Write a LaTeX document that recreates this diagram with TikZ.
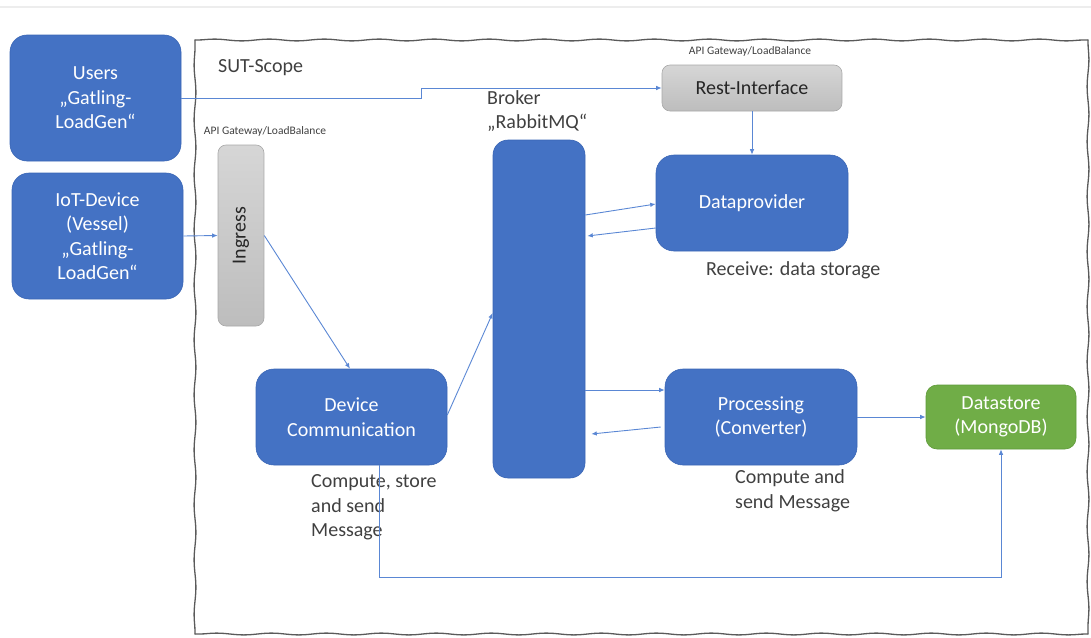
\documentclass[tikz,border=0pt]{standalone}
\usepackage{fontspec}
\setmainfont{Carlito}
\usetikzlibrary{arrows.meta,decorations.pathmorphing}
\definecolor{boxblue}{HTML}{4472C4}
\definecolor{boxblueedge}{HTML}{3A66B5}
\definecolor{linkblue}{HTML}{5A87D4}
\definecolor{boxgreen}{HTML}{70AD47}
\definecolor{boxgreenedge}{HTML}{5E9A39}
\definecolor{graytop}{HTML}{D6D6D6}
\definecolor{graybot}{HTML}{BDBDBD}
\definecolor{grayedge}{HTML}{A8A8A8}
\definecolor{labeltext}{HTML}{404040}
\definecolor{sketch}{HTML}{5A5A5A}
\tikzset{
  bigfont/.style={font=\fontsize{20}{24.5}\selectfont},
  smallfont/.style={font=\fontsize{11.5}{13}\selectfont},
  bluebox/.style={bigfont, draw=boxblueedge, line width=0.6pt, fill=boxblue, text=white, align=center, inner sep=0pt},
  greenbox/.style={bigfont, draw=boxgreenedge, line width=0.6pt, fill=boxgreen, text=white, align=center, inner sep=0pt, rounded corners=11pt},
  graybox/.style={bigfont, draw=grayedge, line width=0.6pt, top color=graytop, bottom color=graybot, text=black!85, align=center, inner sep=0pt, rounded corners=8pt},
  lbl/.style={bigfont, text=labeltext, align=left, inner sep=0pt},
  tinylbl/.style={smallfont, text=labeltext, inner sep=0pt},
  conn/.style={draw=linkblue, line width=0.9pt, -{Latex[length=5.5pt,width=4.5pt]}},
  scope border/.style={draw=sketch, line width=1.3pt, line cap=round, decorate, decoration={snake, amplitude=0.9pt, segment length=55pt, pre length=2pt, post length=2pt}}
}
\begin{document}
\begin{tikzpicture}[x=1pt,y=-1pt]
\useasboundingbox (0,0) rectangle (1091,637);
% page separator line at top
\draw[draw=black!7, line width=2pt] (0,7) -- (1091,7);
% SUT scope hand-drawn frame
\coordinate (ftl) at (195,40);
\coordinate (ftr) at (1088,40);
\coordinate (fbr) at (1088,634);
\coordinate (fbl) at (195,634);
\draw[scope border] (ftl) -- (ftr);
\draw[scope border] (ftr) -- (fbr);
\draw[scope border] (fbr) -- (fbl);
\draw[scope border] (fbl) -- (ftl);
\node[lbl, anchor=west] (scopelabel) at (218,68) {SUT-Scope};

% external load generators
\node[bluebox, rounded corners=17pt, minimum width=171pt, minimum height=126pt] (users) at (95.5,98) {Users\\„Gatling-\\LoadGen“};
\node[bluebox, rounded corners=17pt, minimum width=171pt, minimum height=126pt] (iot) at (97.5,236) {IoT-Device\\(Vessel)\\„Gatling-\\LoadGen“};

% gateways
\node[tinylbl] (apigw1) at (265,131) {API Gateway/LoadBalance};
\node[graybox, minimum width=46pt, minimum height=181pt] (ingress) at (241,235.5) {};
\node[bigfont, text=black!85, rotate=90] (ingresstext) at (ingress.center) {Ingress};
\node[tinylbl] (apigw2) at (750,51) {API Gateway/LoadBalance};
\node[graybox, minimum width=180pt, minimum height=46pt] (rest) at (752,88) {Rest-Interface};

% broker
\node[lbl, anchor=west] (brokerlabel) at (487,111) {Broker\\„RabbitMQ“};
\node[bluebox, rounded corners=15pt, minimum width=92pt, minimum height=338pt] (broker) at (539,309) {};

% services
\node[bluebox, rounded corners=18pt, minimum width=192pt, minimum height=96pt] (dp) at (752,203) {Dataprovider};
\node[lbl, anchor=west] (dplabel) at (706,270) {Receive: data storage};
\node[bluebox, rounded corners=18pt, minimum width=191pt, minimum height=96pt] (dc) at (351.5,417) {Device\\Communication};
\node[lbl, anchor=west] (dclabel) at (311,507.5) {Compute, store\\and send\\Message};
\node[bluebox, rounded corners=18pt, minimum width=192pt, minimum height=96pt] (proc) at (761,417) {Processing\\(Converter)};
\node[lbl, anchor=west] (proclabel) at (735,491) {Compute and\\send Message};
\node[greenbox, minimum width=150pt, minimum height=64pt] (ds) at (1001,417) {Datastore\\(MongoDB)};

% connectors
\coordinate (step1) at (421,98);
\coordinate (step2) at (421,88);
\draw[conn] (users.east) -- (step1) -- (step2) -- (rest.west);
\draw[conn] (iot.east) -- (ingress.west);
\draw[conn] (ingress.east) -- ([xshift=-1.5pt]dc.north);
\draw[conn] ([yshift=2pt]dc.east) -- ([yshift=-4pt]broker.west);
\draw[conn] (rest.south) -- (dp.north);
\draw[conn] ([yshift=94pt]broker.east) -- ([yshift=-1pt]dp.west);
\draw[conn] ([yshift=-25pt]dp.west) -- ([xshift=2pt,yshift=73pt]broker.east);
\draw[conn] ([yshift=-81pt]broker.east) -- ([yshift=27pt]proc.west);
\draw[conn] ([xshift=-4pt,yshift=-10pt]proc.west) -- ([xshift=6pt,yshift=-125pt]broker.east);
\draw[conn] (proc.east) -- (ds.west);
\coordinate (bottomturn) at (379.5,577);
\draw[conn] ([xshift=28pt]dc.south) -- (bottomturn) -| (ds.south);
\end{tikzpicture}
\end{document}
